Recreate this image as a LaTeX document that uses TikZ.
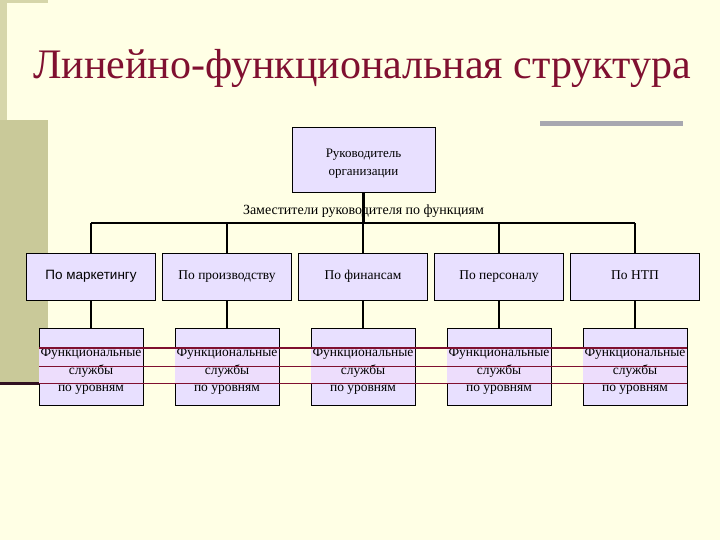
\documentclass[tikz,border=0pt]{standalone}
\usepackage{fontspec}
\setmainfont{Liberation Serif}
\newfontfamily\arialf{Liberation Sans}
\definecolor{bgc}{RGB}{255,255,229}
\definecolor{khaki}{RGB}{201,201,153}
\definecolor{khakil}{RGB}{214,214,170}
\definecolor{maroon}{RGB}{128,16,48}
\definecolor{lav}{RGB}{232,224,255}
\definecolor{pinkband}{RGB}{237,221,252}
\definecolor{barg}{RGB}{168,168,176}
\tikzset{
  box/.style={draw=black, line width=0.9pt, fill=lav, align=center, inner sep=0pt},
  topbox/.style={box, minimum width=143pt, minimum height=65pt},
  fbox/.style={box, minimum width=129pt, minimum height=47pt, font=\fontsize{13.5}{16}\selectfont, text height=9pt, text depth=3pt},
  sbox/.style={box, minimum width=104pt, minimum height=77pt},
  btext/.style={inner sep=0pt, align=center},
  conn/.style={draw=black, line width=2.4pt},
  redthick/.style={draw=maroon, line width=2.4pt},
  redthin/.style={draw=maroon, line width=0.9pt}
}
\begin{document}
\begin{tikzpicture}[x=1pt,y=-1pt]
\fill[bgc] (0,0) rectangle (720,540);
\useasboundingbox (0,0) rectangle (720,540);
% decorative bars
\fill[khakil] (0,0) rectangle (48,3);
\fill[khakil] (0,0) rectangle (7,120);
\fill[khaki] (0,120) rectangle (48,382);
\fill[barg] (540,121) rectangle (683,126);
% title
\node[anchor=base west, inner sep=0pt, text=maroon, font=\fontsize{42}{50}\selectfont] (title) at (33,79) {Линейно-функциональная структура};
% top box
\node[topbox] (top) at (363.5,159.5) {};
\node[btext, font=\fontsize{13}{18}\selectfont, yshift=-4pt] (toptext) at (top.center) {Руководитель\\организации};
\node[inner sep=0pt, font=\fontsize{14}{16}\selectfont] (dep) at (363.5,211) {Заместители руководителя по функциям};
% function boxes
\node[fbox] (f1) at (91,276.5) {\arialf По маркетингу};
\node[fbox] (f2) at (227,276.5) {По производству};
\node[fbox] (f3) at (363,276.5) {По финансам};
\node[fbox] (f4) at (499,276.5) {По персоналу};
\node[fbox] (f5) at (635,276.5) {По НТП};
% service boxes
\foreach \i/\x in {1/91,2/227,3/363,4/499,5/635}{
  \node[sbox] (s\i) at (\x,366.5) {};
  \fill[pinkband] ([xshift=0.5pt]s\i.west |- 0,349) rectangle ([xshift=-0.5pt]s\i.east |- 0,383);
  \node[btext, font=\fontsize{13.5}{17.5}\selectfont, yshift=-5pt] (t\i) at (s\i.center) {Функциональные\\службы\\по уровням};
}
% connectors
\coordinate (barL) at (91,223);
\coordinate (barR) at (635,223);
\draw[conn] (barL) -- (barR);
\draw[conn] (top.south) -- (top.south |- barL);
\foreach \i in {1,...,5}{
  \draw[conn] (f\i.north |- barL) -- (f\i.north);
  \draw[conn] (f\i.south) -- (s\i.north);
}
% maroon stray lines
\draw[redthick] (39,348) -- (687,348);
\draw[redthin] (39,366) -- (687,366);
\draw[redthin] (39,383) -- (687,383);
\draw[draw={rgb,255:red,48;green,16;blue,32}, line width=3pt] (0,383) -- (39,383);
\end{tikzpicture}
\end{document}
